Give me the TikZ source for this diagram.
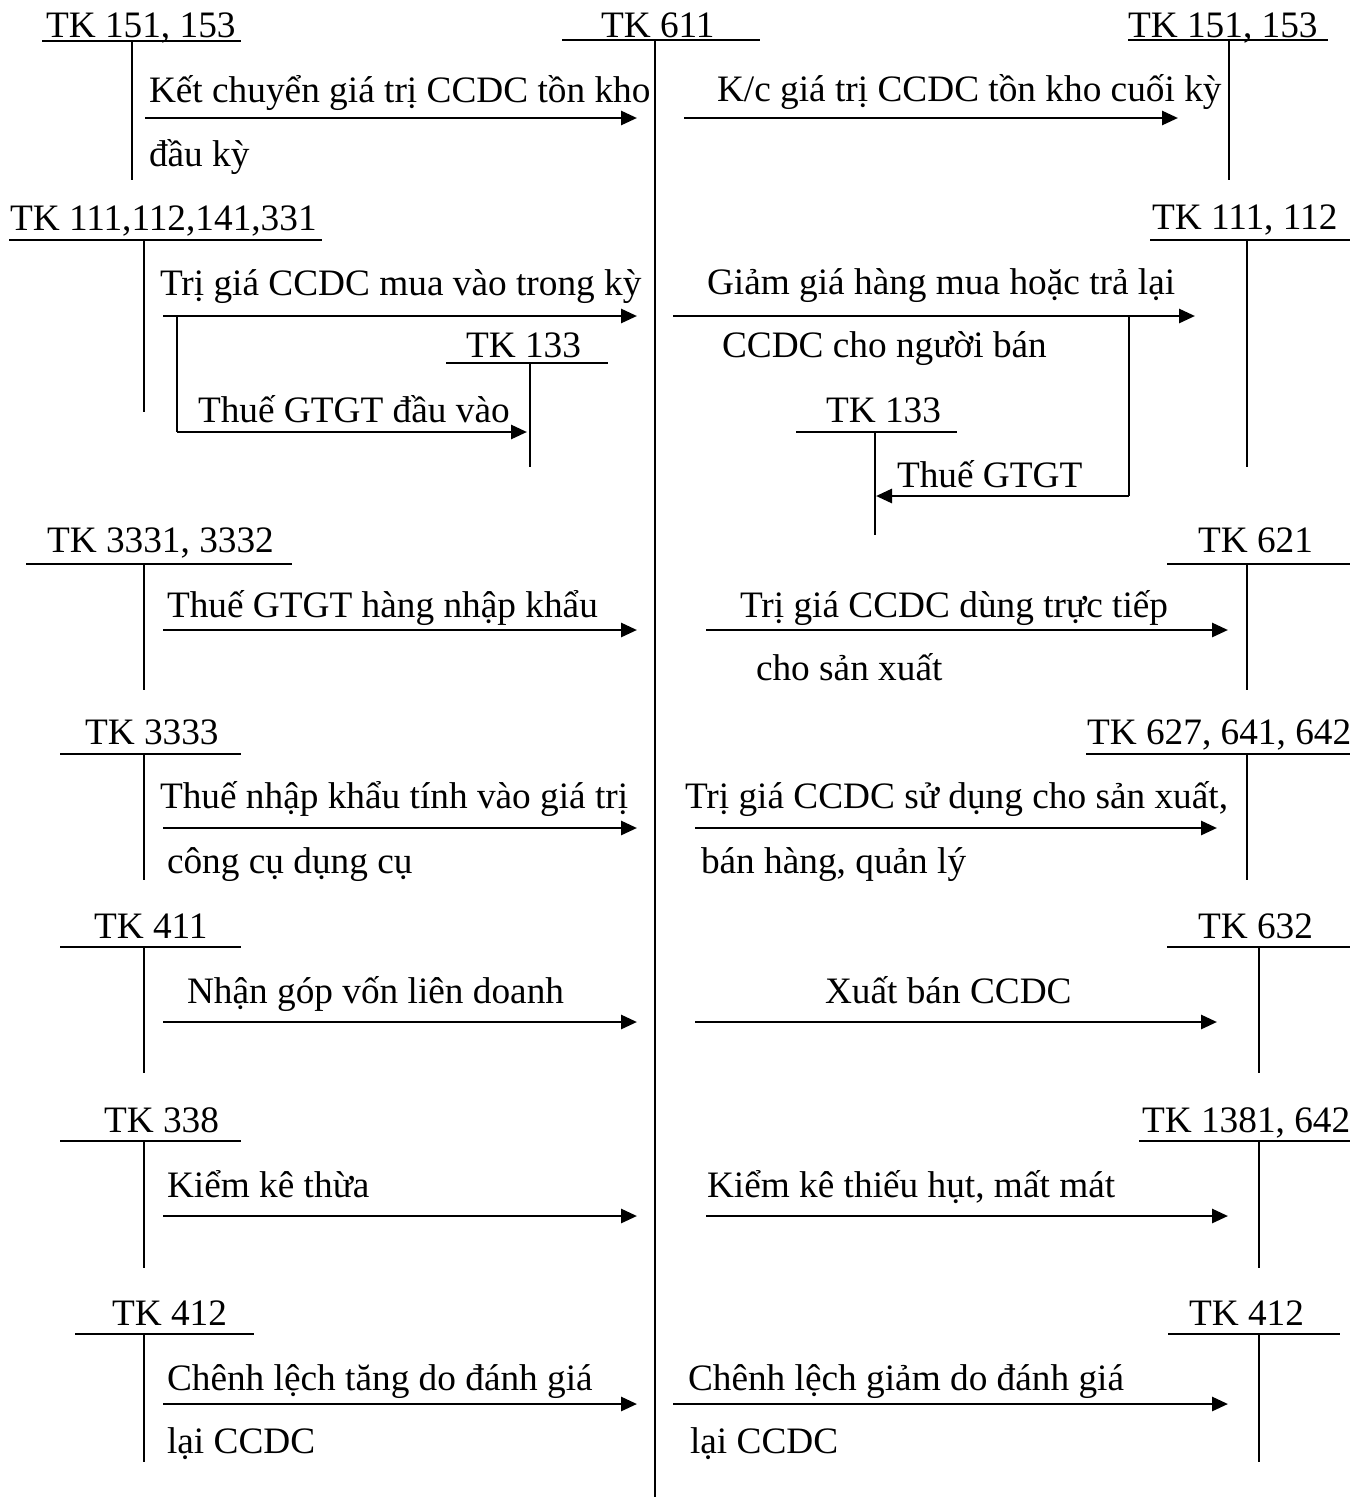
\documentclass[tikz,border=0pt]{standalone}
\usepackage{fontspec}
\setmainfont{Liberation Serif}
\usetikzlibrary{arrows.meta}
\tikzset{
  lbl/.style={anchor=base west, inner sep=0pt, outer sep=0pt},
  tline/.style={line width=2pt},
  flow/.style={line width=2.8pt, -{Triangle[length=16pt,width=14pt]}},
}
% T-account: name, text x, baseline, ul left, ul right, ul y, vert x, vert bottom, text
\newcommand\tacct[9]{%
  \node[lbl] (#1) at (#2,#3) {#9};
  \coordinate (#1-l) at (#4,#6);
  \coordinate (#1-r) at (#5,#6);
  \coordinate (#1-t) at (#7,#6);
  \coordinate (#1-b) at (#7,#8);
  \draw[tline] (#1-l) -- (#1-r);
  \draw[tline] (#1-t) -- (#1-b);
}
% arrow: name, x start, x end, y
\newcommand\flowarr[4]{%
  \coordinate (#1-s) at (#2,#4);
  \coordinate (#1-e) at (#3,#4);
  \draw[flow] (#1-s) -- (#1-e);
}
\begin{document}
\begin{tikzpicture}[x=1pt,y=-1pt,font=\fontsize{37.3}{44}\selectfont]
\useasboundingbox (0,0) rectangle (1368,1497);
\fill[white] (0,0) rectangle (1368,1497);

% central account TK 611
\node[lbl] (c611) at (601,37) {TK 611};
\coordinate (c611-l) at (562,40);
\coordinate (c611-r) at (760,40);
\coordinate (c611-t) at (655,40);
\coordinate (c611-b) at (655,1497);
\draw[tline] (c611-l) -- (c611-r);
\draw[tline] (c611-t) -- (c611-b);

% ---------- row 1
\tacct{L1}{46}{37}{42}{241}{41}{132}{180}{TK 151, 153}
\flowarr{A1}{145}{637}{118}
\node[lbl] (A1t) at (149,102) {Kết chuyển giá trị CCDC tồn kho};
\node[lbl] (A1u) at (149,166) {đầu kỳ};

\tacct{R1}{1128}{37}{1128}{1328}{40}{1229}{180}{TK 151, 153}
\flowarr{B1}{684}{1178}{118}
\node[lbl] (B1t) at (717,101) {K/c giá trị CCDC tồn kho cuối kỳ};

% ---------- row 2
\tacct{L2}{10}{230}{9}{322}{240}{144}{412}{TK 111,112,141,331}
\flowarr{A2}{163}{637}{316}
\node[lbl] (A2t) at (160,295) {Trị giá CCDC mua vào trong kỳ};
\tacct{L2b}{466}{357}{446}{608}{363}{530}{467}{TK 133}
\coordinate (A2b) at (177,316);
\coordinate (A2c) at (177,432);
\coordinate (A2d) at (527,432);
\draw[tline] (A2b) -- (A2c);
\draw[flow] (A2c) -- (A2d);
\node[lbl] (A2v) at (198,422) {Thuế GTGT đầu vào};

\tacct{R2}{1152}{229}{1150}{1350}{240}{1247}{467}{TK 111, 112}
\flowarr{B2}{673}{1195}{316}
\node[lbl] (B2t) at (707,294) {Giảm giá hàng mua hoặc trả lại};
\node[lbl] (B2u) at (722,357) {CCDC cho người bán};
\tacct{R2b}{826}{422}{796}{957}{432}{875}{535}{TK 133}
\coordinate (B2b) at (1129,316);
\coordinate (B2c) at (1129,496);
\coordinate (B2d) at (876,496);
\draw[tline] (B2b) -- (B2c);
\draw[flow] (B2c) -- (B2d);
\node[lbl] (B2v) at (897,487) {Thuế GTGT};

% ---------- row 3
\tacct{L3}{47}{552}{26}{292}{564}{144}{690}{TK 3331, 3332}
\flowarr{A3}{163}{637}{630}
\node[lbl] (A3t) at (167,617) {Thuế GTGT hàng nhập khẩu};

\tacct{R3}{1198}{552}{1167}{1350}{564}{1247}{690}{TK 621}
\flowarr{B3}{706}{1228}{630}
\node[lbl] (B3t) at (740,617) {Trị giá CCDC dùng trực tiếp};
\node[lbl] (B3u) at (756,680) {cho sản xuất};

% ---------- row 4
\tacct{L4}{85}{744}{60}{241}{754}{144}{880}{TK 3333}
\flowarr{A4}{163}{637}{828}
\node[lbl] (A4t) at (160,808) {Thuế nhập khẩu tính vào giá trị};
\node[lbl] (A4u) at (167,873) {công cụ dụng cụ};

\tacct{R4}{1087}{744}{1086}{1350}{754}{1247}{880}{TK 627, 641, 642}
\flowarr{B4}{695}{1217}{828}
\node[lbl] (B4t) at (685,808) {Trị giá CCDC sử dụng cho sản xuất,};
\node[lbl] (B4u) at (701,873) {bán hàng, quản lý};

% ---------- row 5
\tacct{L5}{94}{938}{60}{241}{947}{144}{1073}{TK 411}
\flowarr{A5}{163}{637}{1022}
\node[lbl] (A5t) at (187,1003) {Nhận góp vốn liên doanh};

\tacct{R5}{1198}{938}{1167}{1350}{947}{1259}{1073}{TK 632}
\flowarr{B5}{695}{1217}{1022}
\node[lbl] (B5t) at (825,1003) {Xuất bán CCDC};

% ---------- row 6
\tacct{L6}{104}{1132}{60}{241}{1141}{144}{1268}{TK 338}
\flowarr{A6}{163}{637}{1216}
\node[lbl] (A6t) at (167,1197) {Kiểm kê thừa};

\tacct{R6}{1142}{1132}{1139}{1350}{1141}{1259}{1268}{TK 1381, 642}
\flowarr{B6}{706}{1228}{1216}
\node[lbl] (B6t) at (707,1197) {Kiểm kê thiếu hụt, mất mát};

% ---------- row 7
\tacct{L7}{112}{1325}{75}{254}{1334}{144}{1462}{TK 412}
\flowarr{A7}{163}{637}{1404}
\node[lbl] (A7t) at (167,1390) {Chênh lệch tăng do đánh giá};
\node[lbl] (A7u) at (167,1453) {lại CCDC};

\tacct{R7}{1189}{1325}{1168}{1340}{1334}{1259}{1462}{TK 412}
\flowarr{B7}{673}{1228}{1404}
\node[lbl] (B7t) at (688,1390) {Chênh lệch giảm do đánh giá};
\node[lbl] (B7u) at (690,1453) {lại CCDC};
\end{tikzpicture}
\end{document}
